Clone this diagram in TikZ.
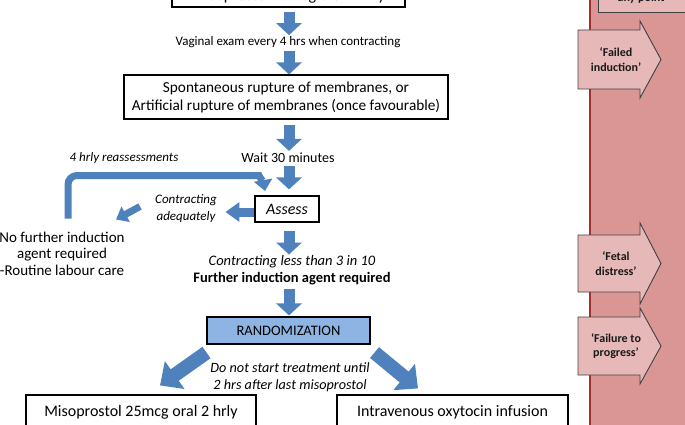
\documentclass[tikz,border=0pt]{standalone}
\usepackage{fontspec}
\setmainfont{Carlito}
\usetikzlibrary{arrows.meta}
\definecolor{oblue}{HTML}{4F81BD}
\definecolor{rbox}{HTML}{8DB4E2}
\definecolor{panel}{HTML}{D99694}
\definecolor{panelline}{HTML}{A0302E}
\definecolor{parrfill}{HTML}{E6B9B8}
\definecolor{parrline}{HTML}{404040}
\newcommand\fs[2]{\fontsize{#1}{#2}\selectfont}
\newcommand\parrow[5]{%
  \draw[parrstyle] (578,#1) -- (640,#1) -- (640,{#1-#3}) -- (661,{(#1+#2)/2}) -- (640,{#2+#3}) -- (640,#2) -- (578,#2) -- cycle;
  \node[parrtext] (#4) at (616,{(#1+#2)/2}) {#5};}
\begin{document}
\begin{tikzpicture}[x=1pt,y=-1pt,
  box/.style={draw=black, line width=1.1pt, inner sep=2pt, align=center, font=\fs{15.3}{18}},
  lbl/.style={inner sep=1pt, align=center, font=\fs{15}{18}},
  sml/.style={inner sep=1pt, align=center, font=\fs{13}{17}},
  down/.style={draw=oblue, line width=11pt, -{Triangle[width=25pt,length=12pt]}},
  fat/.style={draw=oblue, line width=14pt, -{Triangle[width=33pt,length=18pt]}},
  mid/.style={draw=oblue, line width=9pt, -{Triangle[width=19pt,length=14pt]}},
  thin/.style={draw=oblue, line width=7pt, -{Triangle[width=17pt,length=11pt]}},
  parrstyle/.style={draw=parrline, line width=0.9pt, fill=parrfill, line join=miter},
  parrtext/.style={align=center, font=\fs{12}{14.5}\bfseries, text=black!90}]
\useasboundingbox (0,0) rectangle (685,425);
\clip (0,0) rectangle (685,425);
% right panel
\fill[panel] (590,-5) rectangle (690,430);
\draw[panelline, line width=2.5pt] (590,-5) -- (590,430);
\draw[parrstyle] (598,-30) rectangle (700,12);
\node[parrtext] (anyp) at (641,-1.5) {any point};
\parrow{30}{89}{9}{failind}{‘Failed\\induction’}
\parrow{235}{292}{12}{fetal}{‘Fetal\\distress’}
\parrow{317}{375}{9}{failprog}{‘Failure to\\progress’}
% main flow
\coordinate (ax) at (289,0);
\node[box, minimum width=233pt, minimum height=22pt, font=\fs{16}{18}] (b1) at (288.5,-4) {Misoprostol 25mcg oral 2 hrly};
\node[sml] (vag) at (288,42) {Vaginal exam every 4 hrs when contracting};
\node[box, minimum width=324pt, minimum height=44pt] (b2) at (286,97) {Spontaneous rupture of membranes, or\\Artificial rupture of membranes (once favourable)};
\node[lbl, font=\fs{14}{17}] (wait) at (288,158) {Wait 30 minutes};
\node[sml, font=\fs{13}{17}\itshape] (reass) at (124,158) {4 hrly reassessments};
\node[box, minimum width=64pt, minimum height=26pt, font=\fs{16}{18}\itshape] (assess) at (287,209) {Assess};
\node[sml, font=\fs{13}{17}\itshape] (adeq) at (186,208.5) {Contracting\\adequately};
\node[lbl, font=\fs{15}{16.5}, inner sep=0pt] (nofur) at (62,253.5) {No further induction\\agent required\\-Routine labour care};
\node[sml, font=\fs{14.5}{17}] (less) at (292,270.5) {\itshape Contracting less than 3 in 10\\\bfseries Further induction agent required};
\node[box, fill=rbox, minimum width=163pt, minimum height=27pt, font=\fs{14.5}{16}] (rand) at (288.5,330.5) {RANDOMIZATION};
\node[sml, font=\fs{14.2}{17}\itshape] (dont) at (290,377.5) {Do not start treatment until\\2 hrs after last misoprostol};
\node[box, minimum width=230pt, minimum height=34pt, font=\fs{16}{18}] (miso) at (141,412) {Misoprostol 25mcg oral 2 hrly};
\node[box, minimum width=231pt, minimum height=34pt, font=\fs{16}{18}] (oxy) at (452.5,412) {Intravenous oxytocin infusion};
% arrows
\draw[down] (b1.south -| ax) ++(0,4) -- (vag.north -| ax);
\draw[down] (vag.south -| ax) ++(0,2) -- (b2.north -| ax);
\draw[down] (b2.south -| ax) ++(0,5) -- ([yshift=1pt]wait.north -| ax);
\draw[down] (wait.south -| ax) ++(0,2) -- ([yshift=6pt]assess.north -| ax);
\draw[down] (assess.south -| ax) ++(0,8) -- (less.north -| ax);
\draw[down] (less.south -| ax) ++(0,3) -- ([yshift=1pt]rand.north -| ax);
\draw[mid] ([yshift=-3pt]assess.west) -- ++(-29,0) coordinate (assessl);
\draw[thin] (adeq.west) ++(-14,-2) -- ++(-24,13) coordinate (adeqd);
\draw[draw=oblue, line width=7pt, rounded corners=9pt, -{Triangle[width=18pt,length=11pt]}]
  (nofur.north -| 68,0) ++(0,-13) -- (68,175.5) -- (250,175.5) to[out=0,in=100] (265,191) coordinate (loopend);
\draw[fat] ([xshift=-82pt,yshift=-8pt]rand.south) -- ([xshift=19pt,yshift=9pt]miso.north);
\draw[fat] ([xshift=86pt,yshift=-8pt]rand.south) -- ([xshift=-34.5pt,yshift=6pt]oxy.north);
\end{tikzpicture}
\end{document}
